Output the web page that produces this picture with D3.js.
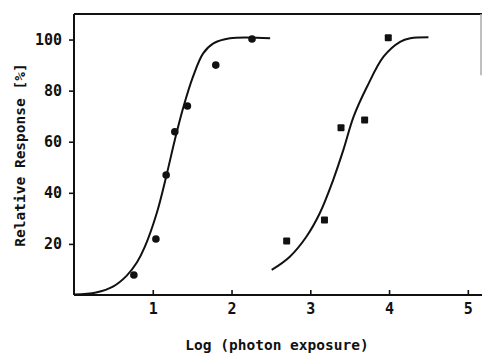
<!DOCTYPE html>
<html>
<head>
<meta charset="utf-8">
<script src="https://cdn.jsdelivr.net/npm/d3@7"></script>
<style>
  body { margin: 0; background: #fff; }
  text { font-family: "DejaVu Sans Mono", monospace; font-weight: bold; fill: #111; }
</style>
</head>
<body>
<div id="chart"></div>
<script>
// measured points, left series (circles)
var circleX = [0.76, 1.04, 1.17, 1.28, 1.44, 1.80, 2.26];
var circleY = [7.8, 21.9, 47.0, 63.9, 74.0, 90.0, 100.2];

// measured points, right series (squares)
var squareX = [2.70, 3.18, 3.39, 3.69, 3.99];
var squareY = [21.1, 29.4, 65.5, 68.5, 100.7];

// fitted curves
var leftCurveX = [0, 0.28, 0.5, 0.67, 0.8, 0.9, 1.05, 1.17, 1.28, 1.39, 1.51, 1.64, 1.77, 1.98, 2.49];
var leftCurveY = [0.2, 1.0, 3.4, 7.6, 12.8, 18.9, 32.0, 46.3, 60.7, 73.7, 85.4, 94.6, 98.5, 100.5, 100.5];
var rightCurveX = [2.51, 2.74, 2.95, 3.12, 3.29, 3.42, 3.55, 3.72, 3.93, 4.14, 4.27, 4.50];
var rightCurveY = [9.8, 15.0, 22.8, 32.0, 45.0, 56.8, 69.8, 81.5, 93.3, 99.1, 100.5, 100.9];

var xTicks = [1, 2, 3, 4, 5];
var yTicks = [20, 40, 60, 80, 100];

var width = 482, height = 355;
var margin = {top: 14, right: 0, bottom: 60, left: 74};

var svg = d3.select("#chart")
  .append("svg")
    .attr("width", width)
    .attr("height", height);

var x = d3.scaleLinear()
    .domain([0, 5.18])
    .range([margin.left, width - margin.right]);

var y = d3.scaleLinear()
    .domain([0, 110])
    .range([height - margin.bottom, margin.top]);

// Y axis
svg.append("g")
    .attr("transform", "translate(" + margin.left + ",0)")
    .call(d3.axisLeft(y).tickValues(yTicks).tickSize(5).tickPadding(7))
    .call(g => g.select(".domain").remove())
    .call(g => g.selectAll("line").attr("stroke", "#111").attr("stroke-width", 1.6))
    .call(g => g.selectAll("text").style("font-size", "15px").attr("fill", "#111"));

// X axis, ticks pointing inward
svg.append("g")
    .attr("transform", "translate(0," + y(0) + ")")
    .call(d3.axisBottom(x).tickValues(xTicks).tickFormat(d3.format("d"))
      .tickSizeInner(-5).tickSizeOuter(0).tickPadding(8))
    .call(g => g.select(".domain").remove())
    .call(g => g.selectAll("line").attr("stroke", "#111").attr("stroke-width", 1.6))
    .call(g => g.selectAll("text").style("font-size", "15px").attr("fill", "#111"));

// frame
svg.append("line")
    .attr("x1", x(0)).attr("x2", x(0))
    .attr("y1", y(110)).attr("y2", y(0))
    .attr("stroke", "#111").attr("stroke-width", 2);
svg.append("line")
    .attr("x1", x(0)).attr("x2", width)
    .attr("y1", y(0)).attr("y2", y(0))
    .attr("stroke", "#111").attr("stroke-width", 2);
svg.append("line")
    .attr("x1", x(0)).attr("x2", width)
    .attr("y1", y(110)).attr("y2", y(110))
    .attr("stroke", "#111").attr("stroke-width", 2);
svg.append("line")
    .attr("x1", width - 1).attr("x2", width - 1)
    .attr("y1", y(110)).attr("y2", y(86))
    .attr("stroke", "#aaa").attr("stroke-width", 1.5);

// curves
var line = d3.line()
    .x(d => x(d[0]))
    .y(d => y(d[1]))
    .curve(d3.curveCatmullRom.alpha(0.5));

svg.append("path")
    .datum(leftCurveX.map((d, i) => [d, leftCurveY[i]]))
    .attr("d", line)
    .attr("fill", "none")
    .attr("stroke", "#111")
    .attr("stroke-width", 2);

svg.append("path")
    .datum(rightCurveX.map((d, i) => [d, rightCurveY[i]]))
    .attr("d", line)
    .attr("fill", "none")
    .attr("stroke", "#111")
    .attr("stroke-width", 2);

// points
svg.selectAll(".dot")
    .data(circleX.map((d, i) => [d, circleY[i]]))
    .enter()
    .append("circle")
    .attr("class", "dot")
    .attr("cx", d => x(d[0]))
    .attr("cy", d => y(d[1]))
    .attr("r", 3.8)
    .attr("fill", "#111");

svg.selectAll(".sq")
    .data(squareX.map((d, i) => [d, squareY[i]]))
    .enter()
    .append("rect")
    .attr("class", "sq")
    .attr("x", d => x(d[0]) - 3.5)
    .attr("y", d => y(d[1]) - 3.5)
    .attr("width", 7)
    .attr("height", 7)
    .attr("rx", 1)
    .attr("fill", "#111");

// labels
svg.append("text")
    .attr("x", 277)
    .attr("y", 350)
    .style("text-anchor", "middle")
    .style("font-size", "14.5px")
    .text("Log (photon exposure)");

svg.append("text")
    .attr("transform", "translate(25,155) rotate(-90)")
    .style("text-anchor", "middle")
    .style("font-size", "14.5px")
    .text("Relative Response [%]");
</script>
</body>
</html>
